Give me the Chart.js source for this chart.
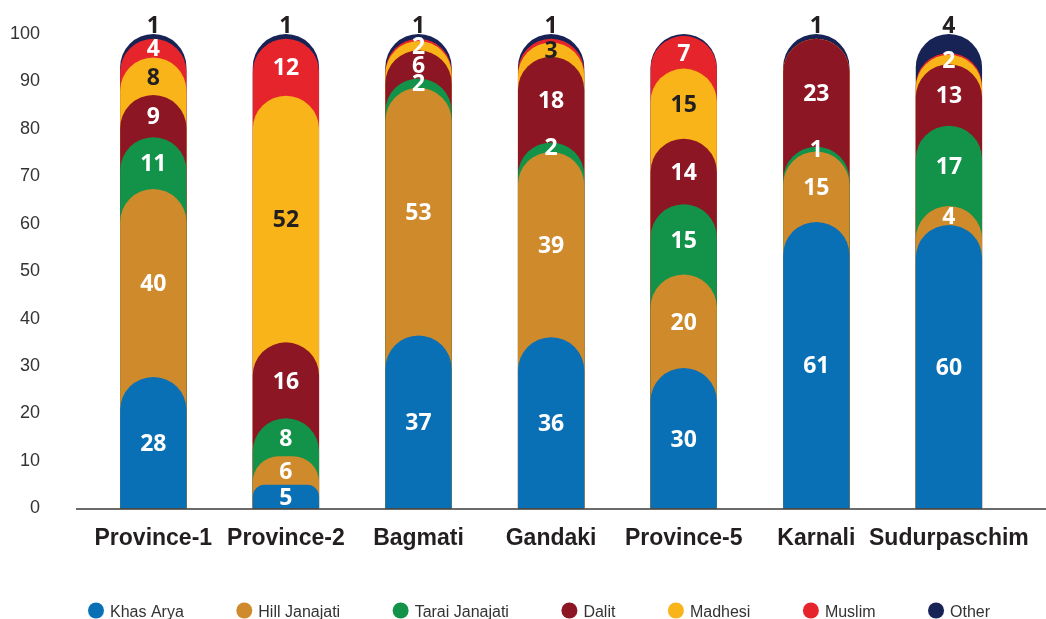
<!DOCTYPE html>
<html><head><meta charset="utf-8">
<script src="https://cdn.jsdelivr.net/npm/chart.js@4.4.1/dist/chart.umd.min.js"></script>
<style>html,body{margin:0;padding:0;background:#fff;}canvas{display:block;}</style>
</head><body>
<canvas id="c" width="1046" height="619"></canvas>
<script>
const categories = ['Province-1','Province-2','Bagmati','Gandaki','Province-5','Karnali','Sudurpaschim'];
const seriesNames = ['Khas Arya','Hill Janajati','Tarai Janajati','Dalit','Madhesi','Muslim','Other'];
const khasArya      = [28, 5, 37, 36, 30, 61, 60];
const hillJanajati  = [40, 6, 53, 39, 20, 15, 4];
const taraiJanajati = [11, 8, 2, 2, 15, 1, 17];
const dalit         = [9, 16, 6, 18, 14, 23, 13];
const madhesi       = [8, 52, 2, 3, 15, 0, 2];
const muslim        = [4, 12, 0.5, 0.8, 7, 0, 0.4];
const other         = [1, 1, 1, 1, 0.4, 1, 4];
const yTicks = [0, 10, 20, 30, 40, 50, 60, 70, 80, 90, 100];

const series = [khasArya, hillJanajati, taraiJanajati, dalit, madhesi, muslim, other];
const colors = ['#0a70b5', '#cf8a2b', '#13934a', '#8c1623', '#f8b419', '#e5252b', '#172255'];
const dark = '#231f20';

// cumulative (normalised to 100) so every band is drawn as an overlapping rounded bar
const totals = categories.map((_, j) => series.reduce((s, arr) => s + arr[j], 0));
const cum = [];
series.forEach((arr, i) => {
  cum.push(arr.map((v, j) => (i ? cum[i - 1][j] : 0) + v / totals[j] * 100));
});

const valueLabels = {
  id: 'valueLabels',
  afterDatasetsDraw(chart) {
    const ctx = chart.ctx, ys = chart.scales.y;
    const fs = 23;
    ctx.save();
    ctx.font = 'bold ' + fs + 'px "Open Sans"';
    ctx.textAlign = 'center';
    ctx.textBaseline = 'alphabetic';
    series.forEach((vals, i) => {
      const meta = chart.getDatasetMeta(i);
      vals.forEach((v, j) => {
        if (v < 1) return;
        const lo = i ? cum[i - 1][j] : 0, hi = cum[i][j];
        const x = meta.data[j].x;
        let py, color;
        if (i === series.length - 1) {
          py = ys.getPixelForValue(hi) - 1;
          color = dark;
        } else {
          py = ys.getPixelForValue((lo + hi) / 2) + 0.36 * fs;
          color = (i === 4 && v >= 3) ? dark : '#ffffff';
        }
        ctx.fillStyle = color;
        ctx.fillText(String(v), x, py);
      });
    });
    ctx.restore();
  }
};

const baseLine = {
  id: 'baseLine',
  afterDatasetsDraw(chart) {
    const ctx = chart.ctx, ys = chart.scales.y;
    const y0 = ys.getPixelForValue(0);
    ctx.save();
    ctx.strokeStyle = '#3a3a3a';
    ctx.lineWidth = 1.5;
    ctx.beginPath();
    ctx.moveTo(chart.chartArea.left - 11, y0 + 0.5);
    ctx.lineTo(chart.width, y0 + 0.5);
    ctx.stroke();
    ctx.restore();
  }
};

const customLegend = {
  id: 'customLegend',
  afterDraw(chart) {
    const ctx = chart.ctx;
    ctx.save();
    ctx.font = '16px "Liberation Sans", Arial, sans-serif';
    ctx.textBaseline = 'alphabetic';
    ctx.textAlign = 'left';
    let x = 88;
    const cy = 610.5, gap = 52.5;
    seriesNames.forEach((n, i) => {
      ctx.fillStyle = colors[i];
      ctx.beginPath();
      ctx.arc(x + 8, cy, 8, 0, Math.PI * 2);
      ctx.fill();
      ctx.fillStyle = '#333333';
      ctx.fillText(n, x + 22, 616.5);
      x += 22 + ctx.measureText(n).width + gap;
    });
    ctx.restore();
  }
};

new Chart(document.getElementById('c'), {
  type: 'bar',
  data: {
    labels: categories,
    datasets: series.map((arr, i) => ({
      label: seriesNames[i],
      data: cum[i],
      backgroundColor: colors[i],
      borderWidth: 0,
      borderRadius: {topLeft: 40, topRight: 40, bottomLeft: 0, bottomRight: 0},
      borderSkipped: 'start',
      stack: 'all',
      categoryPercentage: 1,
      barPercentage: 0.5
    }))
  },
  options: {
    responsive: false,
    devicePixelRatio: 1,
    animation: false,
    layout: {padding: {top: 34, right: 17, left: 0, bottom: 51}},
    plugins: {legend: {display: false}, tooltip: {enabled: false}},
    scales: {
      x: {
        stacked: true,
        grid: {display: false, drawTicks: false},
        border: {display: false},
        ticks: {
          autoSkip: false, maxRotation: 0, minRotation: 0, padding: 16,
          color: dark,
          font: {family: '"Liberation Sans", Arial, sans-serif', size: 23, weight: 'bold'}
        }
      },
      y: {
        stacked: false,
        min: 0, max: 100,
        afterFit(scale) { scale.width = 87; },
        afterBuildTicks(scale) { scale.ticks = yTicks.map(v => ({value: v})); },
        grid: {display: false, drawTicks: true, tickLength: 47},
        border: {display: false},
        ticks: {
          padding: 0,
          color: '#333333',
          font: {family: '"Liberation Sans", Arial, sans-serif', size: 18}
        }
      }
    }
  },
  plugins: [valueLabels, baseLine, customLegend]
});
</script>
</body></html>
